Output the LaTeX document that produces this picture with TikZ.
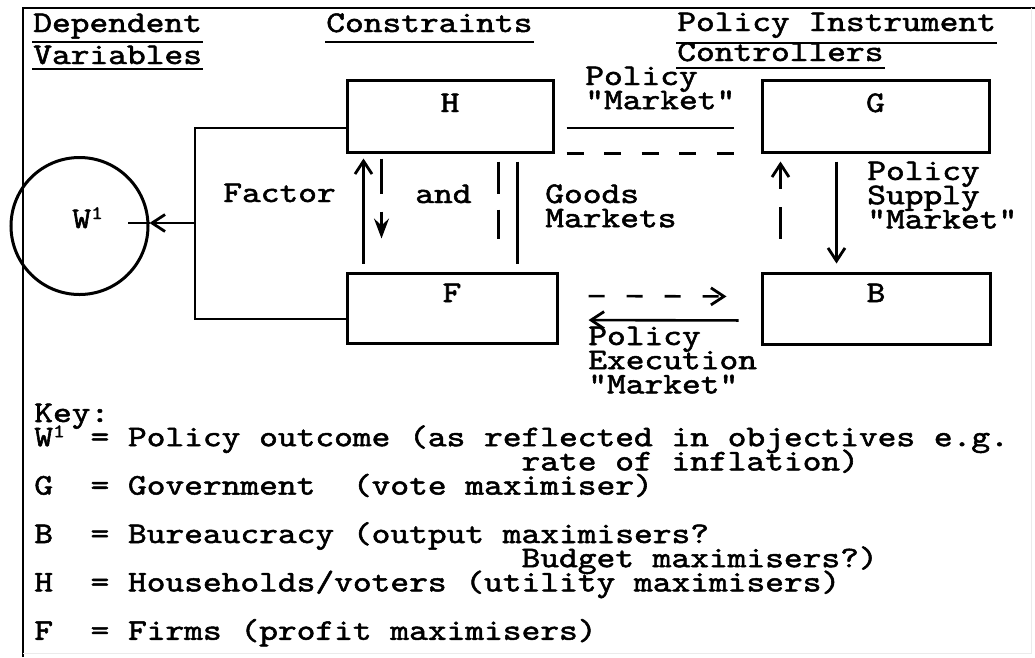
\documentclass[tikz,border=0pt]{standalone}
\usepackage{graphicx}
\usetikzlibrary{arrows.meta}

% typewriter face, slightly heavier, widened to the pitch of the drawing
\font\twf="[lmmono10-regular]:embolden=1.6" at 30pt
\font\twsupf="[lmmono10-regular]:embolden=1.6" at 19pt
\newcommand\tw{\twf\baselineskip=24.2pt\frenchspacing}
\newcommand\supone{\raise9pt\hbox{\twsupf 1}}
\newcommand\sx[1]{\scalebox{1.19}[1]{#1}}
% left-aligned lines at a fixed baseline distance
\newcommand\rows[2][24.2pt]{\vtop{\baselineskip=#1\relax\lineskiplimit=-\maxdimen\lineskip=0pt\halign{##\hfil\cr#2\crcr}}}

\tikzset{
  box/.style={draw, line width=3pt, rectangle, inner sep=0pt, font=\tw},
  tx/.style={inner sep=0pt, anchor=base west, font=\tw},
  uline/.style={line width=2.2pt},
  tip/.style={-{Straight Barb[length=13pt,width=17pt,line width=2.8pt]}},
  heavytip/.style={-{Stealth[length=20pt,width=15pt,inset=7pt]}},
}

\begin{document}
\begin{tikzpicture}[x=1pt, y=-1pt, line width=2.6pt]
\useasboundingbox (0,0) rectangle (1035,657);

% page frame
\draw[line width=2.6pt] (23,657) -- (23,8) -- (1035,8);
\draw[black!8, line width=1pt] (1031,8) -- (1031,653) -- (23,653);

% column headings
\node[tx] (dep1) at (32,32) {\sx{Dependent}};
\node[tx] (dep2) at (32,64) {\sx{Variables}};
\node[tx] (con) at (325,32) {\sx{Constraints}};
\node[tx] (pic1) at (676,31) {\sx{Policy Instrument}};
\node[tx] (pic2) at (676,61) {\sx{Controllers}};
\draw[uline] ([yshift=-10pt]dep1.base west) -- ([yshift=-10pt]dep1.base east);
\draw[uline] ([yshift=-5pt]dep2.base west) -- ([yshift=-5pt]dep2.base east);
\draw[uline] ([yshift=-10pt]con.base west) -- ([yshift=-10pt]con.base east);
\draw[uline] ([yshift=-12pt]pic1.base west) -- ([yshift=-12pt]pic1.base east);
\draw[uline] ([yshift=-7pt]pic2.base west) -- ([yshift=-7pt]pic2.base east);

% actors
\node[box, minimum width=206pt, minimum height=72pt, text height=10pt, text depth=18pt] (H) at (450,116) {\sx{H}};
\node[box, minimum width=227pt, minimum height=72pt, text height=10pt, text depth=18pt] (G) at (875.5,116) {\sx{G}};
\node[box, minimum width=210pt, minimum height=70pt, text height=8pt, text depth=20pt] (F) at (452,308) {\sx{F}};
\node[box, minimum width=228pt, minimum height=71pt, text height=8pt, text depth=21pt] (B) at (876,308.5) {\sx{B}};

% policy outcome
\node[draw, circle, line width=3pt, minimum size=137pt, inner sep=0pt] (W) at (79.5,226) {};
\node[tx] (Wl) at (71,228) {\sx{W\supone}};

% bracket joining H and F, feeding the outcome
\coordinate (hb) at (195,128);
\coordinate (fb) at (195,319);
\coordinate (bm) at (195,223);
\coordinate (wend) at (128,223);
\draw ([yshift=-12pt]H.west) -- (hb) -- (fb) -- ([yshift=-11pt]F.west);
\draw[tip] (bm) -- (W.east |- bm);
\draw (W.east |- bm) -- (wend);

% factor and goods markets
\node[tx] (fac) at (222,202) {\sx{Factor}};
\node[tx] (and) at (414,203) {\sx{and}};
\node[tx] (goods) at (544,203) {\sx{\rows{Goods\cr Markets}}};
\draw[tip, shorten <=8pt, shorten >=5pt] ([xshift=18pt]F.north west) -- ([xshift=18pt]H.south west);
\draw[heavytip, dash pattern=on 35pt off 18pt, shorten <=5pt, shorten >=33pt] ([xshift=36pt]H.south west) -- ([xshift=36pt]F.north west);
\draw[dash pattern=on 32pt off 16pt, shorten <=8pt, shorten >=33pt] ([xshift=153pt]H.south west) -- ([xshift=153pt]F.north west);
\draw[shorten <=8pt, shorten >=8pt] ([xshift=172pt]H.south west) -- ([xshift=172pt]F.north west);

% policy market
\node[tx] (pm) at (584,85) {\sx{\rows{Policy\cr "Market"}}};
\draw[shorten <=12pt, shorten >=27pt] ([yshift=-12pt]H.east) -- ([yshift=-12pt]G.west);
\draw[dash pattern=on 17pt off 20.5pt, shorten <=12pt, shorten >=27pt] (H.south east) -- (G.south west);

% policy supply market
\node[tx] (psm) at (866,180) {\sx{\rows{Policy\cr Supply\cr "Market"}}};
\draw[tip, dash pattern=on 32pt off 18pt, shorten <=33pt, shorten >=8pt] ([xshift=20pt]B.north west) -- ([xshift=20pt]G.south west);
\draw[tip, shorten <=8pt, shorten >=8pt] ([xshift=76pt]G.south west) -- ([xshift=76pt]B.north west);

% policy execution market
\node[tx] (pem) at (587,345) {\sx{\rows{Policy\cr Execution\cr "Market"}}};
\draw[tip, dash pattern=on 16pt off 22pt, shorten <=30pt, shorten >=34pt] ([yshift=12pt]F.east) -- ([yshift=12pt]B.west);
\draw[tip, shorten <=22pt, shorten >=30pt] ([yshift=-12pt]B.west) -- ([yshift=-12pt]F.east);

% key
\node[tx] (key) at (33,422) {\sx{\rows{Key:\cr
\makebox[1.05em][l]{W\supone}~= Policy outcome (as reflected in objectives e.g.\cr
\kern13.65em rate of inflation)\cr
G~~= Government~~(vote maximiser)\cr
\cr
B~~= Bureaucracy (output maximisers?\cr
\kern13.65em Budget maximisers?)\cr
H~~= Households/voters (utility maximisers)\cr
\cr
F~~= Firms (profit maximisers)}}};
\end{tikzpicture}
\end{document}
